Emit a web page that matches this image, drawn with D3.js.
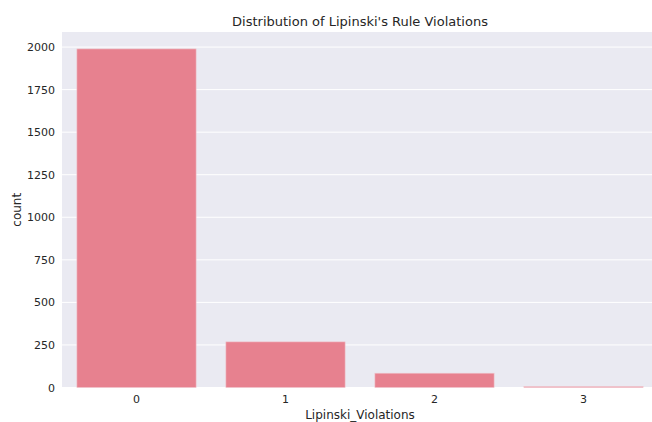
<!DOCTYPE html>
<html>
<head>
<meta charset="utf-8">
<script src="https://cdn.jsdelivr.net/npm/d3@7"></script>
<style>
  body { margin: 0; background: #fff; overflow: hidden; }
  svg text { font-family: "DejaVu Sans", sans-serif; fill: #262626; }
</style>
</head>
<body>
<div id="chart"></div>
<script>
const categories = ["0", "1", "2", "3"];
const counts = [1989, 268, 84, 5];
const yTicks = [0, 250, 500, 750, 1000, 1250, 1500, 1750, 2000];

const width = 652;
const height = 422;
// the axes run a little past the right edge of the picture
const plotRight = 658;
const margin = { top: 32, bottom: 34.5, left: 62 };

const svg = d3.select('#chart')
  .append('svg')
  .attr('width', width)
  .attr('height', height)

const x = d3.scaleBand()
  .domain(categories)
  .range([margin.left, plotRight])
  .paddingInner(0.2)
  .paddingOuter(0.1)

const y = d3.scaleLinear()
  .domain([0, d3.max(counts) * 1.05])
  .range([height - margin.bottom, margin.top])

// background
svg.append('rect')
  .attr('x', margin.left)
  .attr('y', margin.top)
  .attr('width', plotRight - margin.left)
  .attr('height', height - margin.bottom - margin.top)
  .attr('fill', '#eaeaf2')

// grid
svg.append('g')
  .selectAll('line')
  .data(yTicks)
  .enter()
  .append('line')
  .attr('x1', margin.left)
  .attr('x2', plotRight)
  .attr('y1', d => y(d))
  .attr('y2', d => y(d))
  .attr('stroke', '#fff')
  .attr('stroke-width', 1)

svg.append('g')
  .selectAll('rect')
  .data(counts)
  .enter()
  .append('rect')
  .attr('x', (d, i) => x(categories[i]))
  .attr('width', x.bandwidth())
  .attr('y', d => y(d))
  .attr('height', d => y(0) - y(d))
  .attr('fill', '#e7818f')
  .attr('stroke', '#f0c4cb')
  .attr('stroke-width', 0.6)

let yAxis = d3.axisLeft(y)
  .tickValues(yTicks)
  .tickFormat(d3.format('d'))
  .tickSize(0)
  .tickPadding(7)

let xAxis = d3.axisBottom(x)
  .tickSize(0)
  .tickPadding(8)

svg.append('g')
  .attr('transform', `translate(${margin.left}, 0)`)
  .call(yAxis)
  .call(g => g.select('.domain').remove())
  .selectAll('text')
  .attr('font-size', 11)
  .style('font-family', '"DejaVu Sans", sans-serif')
  .attr('fill', '#262626')

svg.append('g')
  .attr('transform', `translate(0, ${height - margin.bottom})`)
  .call(xAxis)
  .call(g => g.select('.domain').remove())
  .selectAll('text')
  .attr('font-size', 11)
  .style('font-family', '"DejaVu Sans", sans-serif')
  .attr('fill', '#262626')

svg.append('text')
  .attr('x', (margin.left + plotRight) / 2)
  .attr('y', 26)
  .attr('text-anchor', 'middle')
  .attr('font-size', 13)
  .text("Distribution of Lipinski's Rule Violations")

svg.append('text')
  .attr('x', (margin.left + plotRight) / 2)
  .attr('y', 419)
  .attr('text-anchor', 'middle')
  .attr('font-size', 12)
  .text('Lipinski_Violations')

svg.append('text')
  .attr('transform', `translate(21, ${(margin.top + height - margin.bottom) / 2}) rotate(-90)`)
  .attr('text-anchor', 'middle')
  .attr('font-size', 12)
  .text('count')
</script>
</body>
</html>
